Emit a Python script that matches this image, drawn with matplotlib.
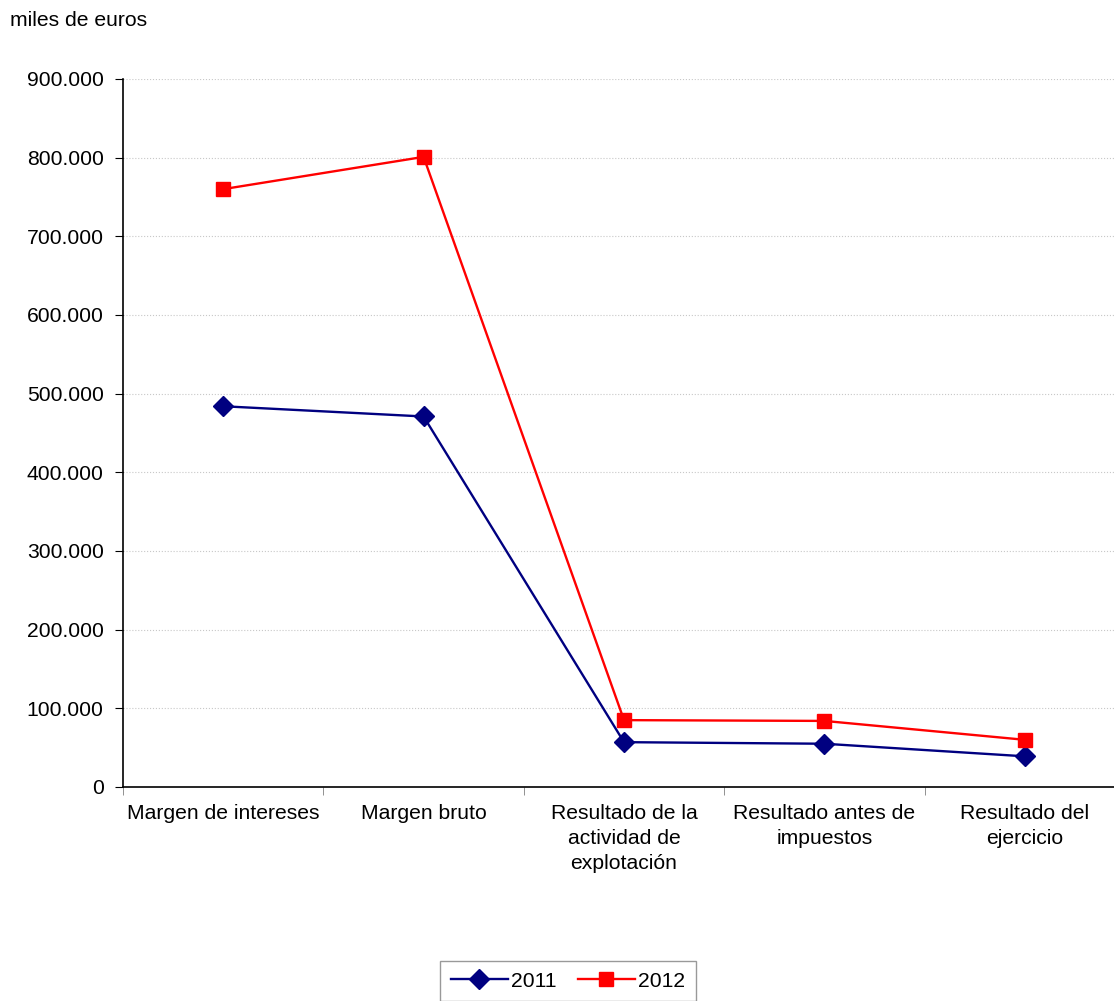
import numpy as np
import matplotlib.pyplot as plt
from matplotlib.ticker import FuncFormatter, FixedLocator

plt.rcParams['font.family'] = ['Liberation Sans', 'DejaVu Sans']

# -----------------------
# DATA
# -----------------------
categories = ["Margen de intereses", "Margen bruto",
              "Resultado de la\nactividad de\nexplotación",
              "Resultado antes de\nimpuestos", "Resultado del\nejercicio"]
vals_2011 = [484000, 471000, 57000, 55000, 39000]
vals_2012 = [760000, 801000, 85000, 84000, 60000]

FS = 15.2

# -----------------------
# FIGURE
# -----------------------
W, H = 1114, 1001
fig = plt.figure(figsize=(W / 100, H / 100), dpi=100)
ax = fig.add_axes([123 / W, (H - 787) / H, 1002 / W, 708 / H])

x = np.arange(len(categories))
ax.plot(x, vals_2011, color='#000080', lw=1.7, marker='D', ms=10, label='2011', clip_on=False)
ax.plot(x, vals_2012, color='#ff0000', lw=1.7, marker='s', ms=10.5, label='2012', clip_on=False)

ax.set_xlim(-0.5, len(categories) - 0.5)
ax.set_ylim(0, 900000)
ax.set_yticks(np.arange(0, 900001, 100000))
ax.yaxis.set_major_formatter(FuncFormatter(lambda v, p: f"{int(v):,}".replace(",", ".")))
ax.grid(axis='y', color='#c8c8c8', linestyle=':', linewidth=0.8)
ax.set_axisbelow(True)

# category labels centred, ticks on boundaries
ax.set_xticks(x)
ax.set_xticklabels(categories, fontsize=FS, linespacing=1.4)
ax.tick_params(axis='x', length=0, pad=12)
ax.xaxis.set_minor_locator(FixedLocator(np.arange(-0.5, len(categories), 1.0)))
ax.tick_params(axis='x', which='minor', length=6, color='#808080')
ax.tick_params(axis='y', labelsize=FS, length=6, pad=8)

for s in ['top', 'right']:
    ax.spines[s].set_visible(False)
for s in ['left', 'bottom']:
    ax.spines[s].set_linewidth(1.2)

fig.text(10 / W, 1 - 21 / H, "miles de euros", fontsize=FS, va='center')

leg = fig.legend(loc='upper center', bbox_to_anchor=(568 / W, 1 - 961 / H), ncol=2,
                 fontsize=FS, frameon=True, fancybox=False, edgecolor='#808080',
                 handlelength=2.7, columnspacing=1.0, handletextpad=0.15,
                 borderpad=0.5, borderaxespad=0)
leg.get_frame().set_linewidth(1.0)

fig.savefig("out.png", dpi=100)
